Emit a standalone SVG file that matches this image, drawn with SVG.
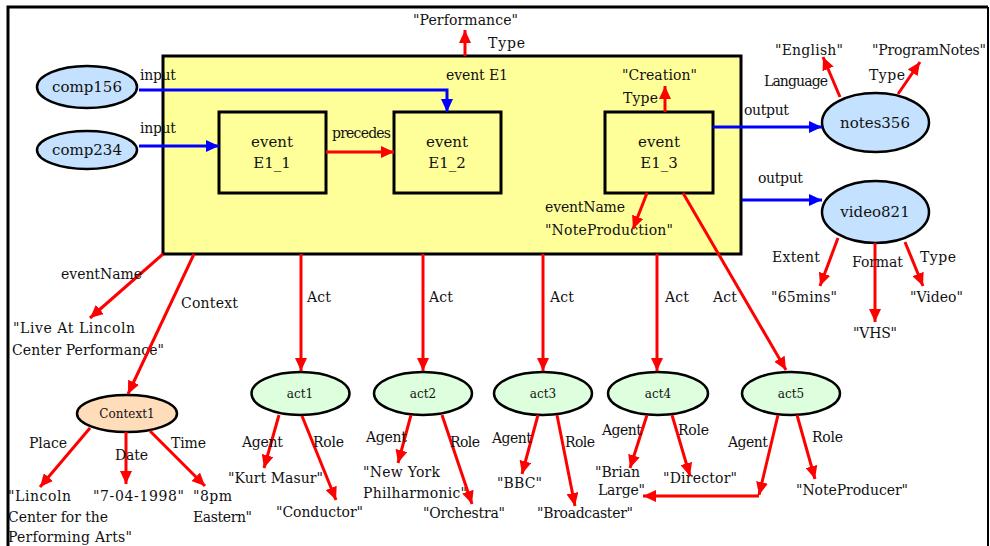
<svg xmlns="http://www.w3.org/2000/svg" width="990" height="546" viewBox="0 0 990 546">
<defs>
<marker id="ar" markerUnits="userSpaceOnUse" markerWidth="14" markerHeight="12" refX="13" refY="6" orient="auto"><path d="M0,0 L13,6 L0,12 z" fill="#ff0000"/></marker>
<marker id="ab" markerUnits="userSpaceOnUse" markerWidth="14" markerHeight="12" refX="13" refY="6" orient="auto"><path d="M0,0 L13,6 L0,12 z" fill="#0000ff"/></marker>
<style>
text{font-family:"DejaVu Serif","Liberation Serif",serif;font-size:14px;fill:#111}
.nl{text-anchor:middle;font-size:15px}
.sm{text-anchor:middle;font-size:12px}
.r{fill:none;stroke:#ff0000;stroke-width:3;marker-end:url(#ar)}
.b{fill:none;stroke:#0000ff;stroke-width:3;marker-end:url(#ab)}
.box{fill:#ffff99;stroke:#000;stroke-width:3}
.eb{fill:#c4e2ff;stroke:#000;stroke-width:2.5}
.eg{fill:#ddffdd;stroke:#000;stroke-width:2.5}
.eo{fill:#ffddbb;stroke:#000;stroke-width:2.5}
</style>
</defs>
<rect width="990" height="546" fill="#fff"/>
<path d="M8,560 V7 H988" fill="none" stroke="#000" stroke-width="3"/>
<path d="M988,7 V560" fill="none" stroke="#000" stroke-width="2"/>

<g id="E1">
<rect x="163" y="56" width="578" height="198" class="box" stroke-width="2.5"/>
<text x="446" y="80" textLength="62">event E1</text>
</g>
<g id="E1_1"><rect x="219" y="112" width="107" height="81" class="box"/><text class="nl" x="272" y="147">event</text><text class="nl" x="272" y="168">E1_1</text></g>
<g id="E1_2"><rect x="394" y="112" width="107" height="81" class="box"/><text class="nl" x="447" y="147">event</text><text class="nl" x="447" y="168">E1_2</text></g>
<g id="E1_3"><rect x="605" y="112" width="108" height="81" class="box"/><text class="nl" x="659" y="147">event</text><text class="nl" x="659" y="168">E1_3</text></g>

<g id="comp156"><ellipse cx="87" cy="87" rx="50" ry="21" class="eb"/><text class="nl" x="87" y="92">comp156</text></g>
<g id="comp234"><ellipse cx="87" cy="150" rx="50" ry="19" class="eb"/><text class="nl" x="87" y="155">comp234</text></g>
<g id="notes356"><ellipse cx="875.5" cy="122.5" rx="53.5" ry="29.5" class="eb"/><text class="nl" x="875" y="128">notes356</text></g>
<g id="video821"><ellipse cx="875.5" cy="212" rx="53.5" ry="31" class="eb"/><text class="nl" x="875" y="217">video821</text></g>
<g id="Context1"><ellipse cx="127" cy="413.5" rx="50" ry="18.5" class="eo"/><text class="sm" x="127" y="418">Context1</text></g>
<g id="act1"><ellipse cx="300.5" cy="393.5" rx="49" ry="21.5" class="eg"/><text class="sm" x="300" y="398">act1</text></g>
<g id="act2"><ellipse cx="423" cy="393.5" rx="49" ry="21.5" class="eg"/><text class="sm" x="423" y="398">act2</text></g>
<g id="act3"><ellipse cx="543" cy="393.5" rx="49" ry="21.5" class="eg"/><text class="sm" x="543" y="398">act3</text></g>
<g id="act4"><ellipse cx="658" cy="393.5" rx="50" ry="21.5" class="eg"/><text class="sm" x="658" y="398">act4</text></g>
<g id="act5"><ellipse cx="791" cy="393.5" rx="49" ry="21.5" class="eg"/><text class="sm" x="791" y="398">act5</text></g>

<g id="literals">
<text x="413" y="25" textLength="105">"Performance"</text>
<text x="622" y="80" textLength="75">"Creation"</text>
<text x="775" y="55" textLength="68">"English"</text>
<text x="872" y="55" textLength="114">"ProgramNotes"</text>
<text x="771" y="302" textLength="66">"65mins"</text>
<text x="853" y="338" textLength="44">"VHS"</text>
<text x="910" y="302" textLength="53">"Video"</text>
<text x="545" y="235" textLength="128">"NoteProduction"</text>
<text x="13" y="333" textLength="122">"Live At Lincoln</text>
<text x="12" y="355" textLength="152">Center Performance"</text>
<text x="8" y="501" textLength="63">"Lincoln</text>
<text x="8" y="522" textLength="100">Center for the</text>
<text x="8" y="542" textLength="124">Performing Arts"</text>
<text x="93" y="501" textLength="91">"7-04-1998"</text>
<text x="193" y="501" textLength="39">"8pm</text>
<text x="193" y="522" textLength="59">Eastern"</text>
<text x="228" y="483" textLength="95">"Kurt Masur"</text>
<text x="276" y="517" textLength="87">"Conductor"</text>
<text x="363" y="477" textLength="77">"New York</text>
<text x="363" y="498" textLength="104">Philharmonic"</text>
<text x="423" y="518" textLength="82">"Orchestra"</text>
<text x="497" y="488" textLength="45">"BBC"</text>
<text x="537" y="518" textLength="96">"Broadcaster"</text>
<text x="595" y="477" textLength="45">"Brian</text>
<text x="598" y="495" textLength="47">Large"</text>
<text x="663" y="483" textLength="74">"Director"</text>
<text x="796" y="495" textLength="112">"NoteProducer"</text>
</g>

<g id="connectors">
<path class="b" d="M139,90 H447 V112"/>
<path class="b" d="M139,146 H219"/>
<path class="r" d="M326,152 H394"/>
<path class="r" d="M465,56 V30"/>
<path class="r" d="M665,112 V86"/>
<path class="b" d="M713,127 H822"/>
<path class="b" d="M742,200 H822"/>
<path class="r" d="M840,97 L823,57"/>
<path class="r" d="M898,94 L920,62"/>
<path class="r" d="M838,238 L820,286"/>
<path class="r" d="M875,243 V322"/>
<path class="r" d="M905,242 L923,286"/>
<path class="r" d="M647,193 L633,229"/>
<path class="r" d="M683,193 L786,370"/>
<path class="r" d="M301,254 V371"/>
<path class="r" d="M423,254 V371"/>
<path class="r" d="M543,254 V371"/>
<path class="r" d="M657,254 V371"/>
<path class="r" d="M163,254 L90,318"/>
<path class="r" d="M194,254 L128,394"/>
<path class="r" d="M90,428 L40,487"/>
<path class="r" d="M126,432 V484"/>
<path class="r" d="M150,431 L205,486"/>
<path class="r" d="M279,415 L264,468"/>
<path class="r" d="M302,416 L336,500"/>
<path class="r" d="M411,415 L398,463"/>
<path class="r" d="M442,415 L472,504"/>
<path class="r" d="M538,415 L522,474"/>
<path class="r" d="M557,415 L575,506"/>
<path class="r" d="M647,415 L630,468"/>
<path class="r" d="M672,415 L690,476"/>
<path class="r" d="M778,415 L759,495"/>
<path class="r" d="M759,496 H643"/>
<path class="r" d="M797,415 L815,479"/>
<g id="edge-labels">
<text x="140" y="80" textLength="36">input</text>
<text x="140" y="133" textLength="36">input</text>
<text x="332" y="138" textLength="59">precedes</text>
<text x="488" y="48" textLength="37">Type</text>
<text x="623" y="103" textLength="35">Type</text>
<text x="744" y="115" textLength="45">output</text>
<text x="758" y="183" textLength="45">output</text>
<text x="764" y="86" textLength="64">Language</text>
<text x="869" y="80" textLength="36">Type</text>
<text x="772" y="262" textLength="48">Extent</text>
<text x="852" y="267" textLength="51">Format</text>
<text x="920" y="262" textLength="36">Type</text>
<text x="545" y="212" textLength="80">eventName</text>
<text x="61" y="279" textLength="81">eventName</text>
<text x="181" y="308" textLength="57">Context</text>
<text x="307" y="302" textLength="24">Act</text>
<text x="429" y="302" textLength="24">Act</text>
<text x="550" y="302" textLength="24">Act</text>
<text x="665" y="302" textLength="24">Act</text>
<text x="713" y="302" textLength="24">Act</text>
<text x="29" y="448" textLength="38">Place</text>
<text x="115" y="460" textLength="33">Date</text>
<text x="171" y="448" textLength="35">Time</text>
<text x="242" y="447" textLength="41">Agent</text>
<text x="313" y="447" textLength="31">Role</text>
<text x="366" y="442" textLength="41">Agent</text>
<text x="450" y="447" textLength="30">Role</text>
<text x="492" y="443" textLength="40">Agent</text>
<text x="565" y="447" textLength="30">Role</text>
<text x="602" y="435" textLength="40">Agent</text>
<text x="678" y="435" textLength="31">Role</text>
<text x="728" y="447" textLength="40">Agent</text>
<text x="812" y="442" textLength="31">Role</text>
</g>
</g>
</svg>
